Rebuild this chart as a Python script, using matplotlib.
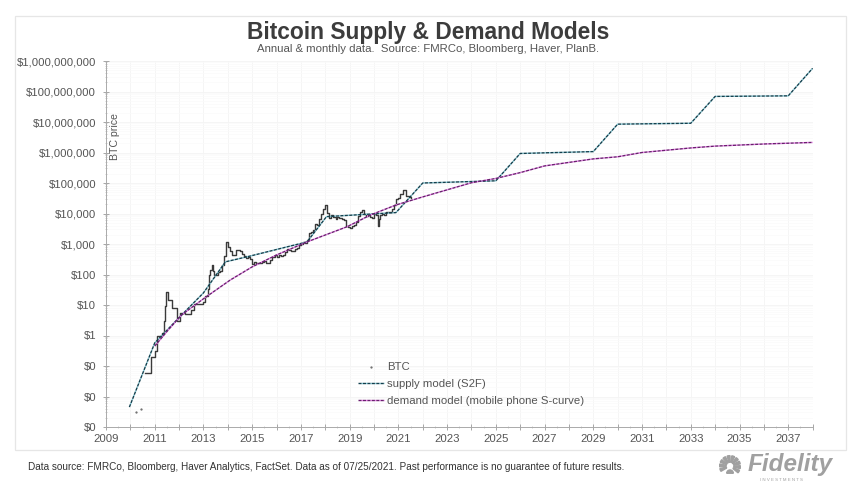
import matplotlib
matplotlib.use("Agg")
import matplotlib.pyplot as plt
from matplotlib.patches import Rectangle, Wedge

plt.rcParams["font.family"] = ["Liberation Sans", "DejaVu Sans"]

TEXT = "#555555"
W, H = 860, 491

# values
supply_years = [2009.96, 2011.0, 2011.9, 2013.0, 2013.9, 2014.9, 2017.25, 2018.05, 2020.25,
                2020.9, 2022.0, 2025.0, 2026.0, 2029.0, 2030.0, 2033.0, 2034.0, 2037.0, 2038.0]
supply_price = [0.0045, 0.57, 3.2, 25, 260, 400, 1170, 7900, 10000,
                10700, 100000, 118000, 930000, 1070000, 8500000, 9100000, 69000000, 72000000, 575000000]

demand_years = [2011.0, 2011.55, 2012.1, 2013.0, 2014.1, 2015.0, 2016.0, 2017.25, 2018.9, 2019.85, 2020.9,
                2022.0, 2024.0, 2025.0, 2026.0, 2027.0, 2029.0, 2030.0, 2031.0, 2033.0, 2034.0,
                2036.0, 2038.0]
demand_price = [0.45, 1.5, 4.7, 16, 66, 178, 437, 1170, 3700, 8900, 19000,
                35000, 102000, 141000, 219000, 363000, 617000, 724000, 1000000, 1410000, 1620000,
                1900000, 2140000]

btc_years = [2010.6, 2010.85, 2011.0, 2011.1, 2011.3, 2011.38, 2011.42, 2011.46, 2011.55, 2011.7,
             2011.9, 2012.05, 2012.25, 2012.5, 2012.6, 2012.75, 2013.0, 2013.08, 2013.17, 2013.22,
             2013.28, 2013.33, 2013.38, 2013.42, 2013.5, 2013.58, 2013.67, 2013.75, 2013.83, 2013.92,
             2014.0, 2014.08, 2014.17, 2014.25, 2014.33, 2014.42, 2014.5, 2014.58, 2014.67, 2014.75,
             2014.83, 2014.92, 2015.0, 2015.08, 2015.17, 2015.25, 2015.33, 2015.42, 2015.5, 2015.58,
             2015.67, 2015.75, 2015.83, 2015.92, 2016.0, 2016.08, 2016.17, 2016.25, 2016.33, 2016.42,
             2016.5, 2016.58, 2016.67, 2016.75, 2016.83, 2016.92, 2017.0, 2017.08, 2017.17, 2017.25,
             2017.33, 2017.42, 2017.5, 2017.58, 2017.67, 2017.75, 2017.83, 2017.92, 2018.0, 2018.08,
             2018.17, 2018.25, 2018.33, 2018.42, 2018.5, 2018.58, 2018.67, 2018.75, 2018.83, 2018.92,
             2019.0, 2019.08, 2019.17, 2019.25, 2019.33, 2019.42, 2019.5, 2019.58, 2019.67, 2019.75,
             2019.83, 2019.92, 2020.0, 2020.08, 2020.17, 2020.21, 2020.25, 2020.33, 2020.42, 2020.5,
             2020.58, 2020.67, 2020.75, 2020.83, 2020.92, 2021.0, 2021.08, 2021.17, 2021.25, 2021.33,
             2021.42, 2021.5]
btc_price = [0.06, 0.2, 0.3, 1, 1.2, 3, 9, 27, 15, 8,
             3, 5.5, 5, 7, 11, 11, 13, 20, 33, 93,
             140, 200, 130, 100, 95, 125, 135, 200, 400, 1130,
             770, 570, 450, 445, 630, 640, 580, 480, 390, 340,
             375, 320, 220, 255, 245, 235, 230, 265, 285, 230,
             235, 310, 375, 430, 370, 435, 415, 450, 530, 670,
             620, 575, 610, 700, 745, 960, 965, 1190, 1080, 1350,
             2300, 2480, 2870, 4700, 4340, 6450, 10000, 14000, 19000, 10300,
             7000, 9200, 7500, 6400, 7700, 7000, 6600, 6300, 4000, 3700,
             3450, 3800, 4100, 5300, 8500, 10800, 13000, 9600, 8300, 9200,
             7500, 7200, 9300, 8600, 4000, 6400, 8600, 9400, 9100, 11300,
             11600, 10800, 13800, 19700, 29000, 33000, 45000, 58000, 57000, 37000,
             35000, 33000]

dot_years = [2010.25, 2010.42]
dot_price = [0.003, 0.004]

ytick_vals = [1e-3, 1e-2, 1e-1, 1, 10, 100, 1e3, 1e4, 1e5, 1e6, 1e7, 1e8, 1e9]
ytick_labels = ["$0", "$0", "$0", "$1", "$10", "$100", "$1,000", "$10,000", "$100,000",
                "$1,000,000", "$10,000,000", "$100,000,000", "$1,000,000,000"]
xtick_vals = list(range(2009, 2039))
xtick_labels = [str(y) if (y - 2009) % 2 == 0 else "" for y in xtick_vals]

fig = plt.figure(figsize=(W / 100, H / 100), dpi=100, facecolor="white")
ax = fig.add_axes([106 / W, 1 - 427 / H, (812.6 - 106) / W, (427 - 61) / H])

# outer frame
fig.add_artist(Rectangle((15 / W, 1 - 450 / H), 831 / W, 434 / H, transform=fig.transFigure,
                         fill=False, edgecolor="#e6e6e6", linewidth=0.9))

ax.set_yscale("log")
ax.set_xlim(2009, 2038)
ax.set_ylim(1e-3, 1e9)

ax.step(btc_years, btc_price, where="post", color="#3a3a3a", lw=1.0, zorder=2, label="_nolegend_")
ax.plot(dot_years, dot_price, ls="none", marker=".", ms=1.2, color="#666666", zorder=2, label="BTC")
ax.plot(supply_years, supply_price, color="#12404e", gapcolor="#7cc8d6", lw=1.0,
        dashes=(2.2, 1.0), zorder=3, label="supply model (S2F)")
ax.plot(demand_years, demand_price, color="#6b1f70", gapcolor="#ea74ea", lw=1.0,
        dashes=(2.2, 1.0), zorder=4, label="demand model (mobile phone S-curve)")

ax.set_yticks(ytick_vals, ytick_labels)
ax.set_yticks([m * v for v in ytick_vals[:-1] for m in range(2, 10)], minor=True)
ax.set_xticks(xtick_vals, xtick_labels)
ax.set_xticks([y + 0.5 for y in xtick_vals[:-1]], minor=True)

ax.grid(which="major", color="#f4f4f4", lw=0.6)
ax.grid(which="minor", axis="y", color="#fafafa", lw=0.5)
ax.set_axisbelow(True)

for side in ["top", "right"]:
    ax.spines[side].set_visible(False)
for side in ["left", "bottom"]:
    ax.spines[side].set_color("#aaaaaa")
    ax.spines[side].set_linewidth(0.7)
ax.tick_params(which="major", direction="inout", length=4, width=0.6, color="#999999",
               labelcolor=TEXT, labelsize=8.2)
ax.tick_params(which="minor", direction="inout", length=2, width=0.4, color="#aaaaaa")
ax.tick_params(axis="y", which="major", pad=5.2)
ax.tick_params(axis="x", which="major", pad=3)

fig.text(115.5 / W, 1 - 137 / H, "BTC price", rotation=90, ha="center", va="center",
         fontsize=7.6, color=TEXT)

ax.legend(loc="upper left", bbox_to_anchor=((358 - 106) / (812.6 - 106), (427 - 362.5) / (427 - 61)),
          frameon=False, fontsize=8.2, labelcolor=TEXT, handlelength=2.3, handletextpad=0.25,
          labelspacing=0.58, borderpad=0, borderaxespad=0)

fig.text(428.5 / W, 1 - 32 / H, "Bitcoin Supply & Demand Models", ha="center", va="center",
         fontsize=16.4, fontweight="bold", color="#3c3c3c")
fig.text(428 / W, 1 - 49 / H, "Annual & monthly data.  Source: FMRCo, Bloomberg, Haver, PlanB.",
         ha="center", va="center", fontsize=8.2, color=TEXT)
fig.text(28 / W, 1 - 467 / H,
         "Data source: FMRCo, Bloomberg, Haver Analytics, FactSet. Data as of 07/25/2021. "
         "Past performance is no guarantee of future results.",
         ha="left", va="center", fontsize=7.2, color="#333333")

# logo
LOGO = "#a0a0a0"
fig.text(833 / W, 1 - 465 / H, "Fidelity", ha="right", va="center", fontsize=17.5,
         fontweight="bold", style="italic", color=LOGO)
fig.text(781 / W, 1 - 480 / H, "I N V E S T M E N T S", ha="center", va="center", fontsize=3.2, color=LOGO)
logo_ax = fig.add_axes([719 / W, 1 - 476 / H, 22 / W, 22 / H])
logo_ax.set_xlim(-1, 1)
logo_ax.set_ylim(-1, 1)
logo_ax.axis("off")
for start in range(-40, 220, 26):
    logo_ax.add_patch(Wedge((0, -0.1), 0.95, start, start + 16, width=0.6, color=LOGO))
logo_ax.add_patch(Wedge((0, -0.75), 0.3, 0, 180, color=LOGO))

fig.savefig("out.png", dpi=100, facecolor="white")
